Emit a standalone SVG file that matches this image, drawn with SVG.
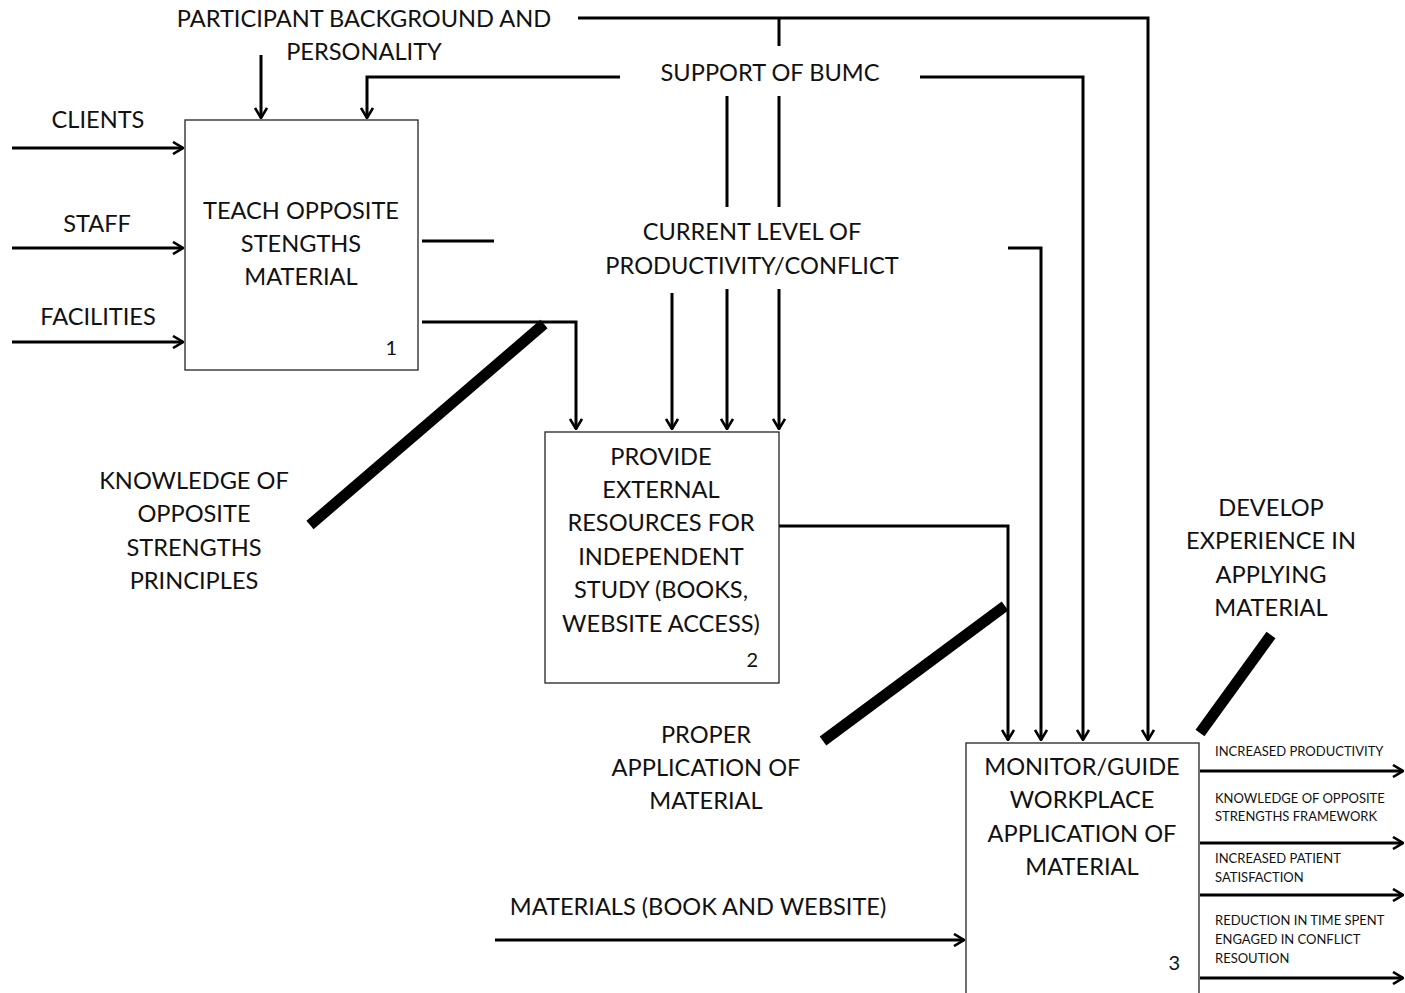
<svg xmlns="http://www.w3.org/2000/svg" width="1405" height="993" viewBox="0 0 1405 993">
<style>
.t{font-family:Lato,"Open Sans",sans-serif;font-size:23.6px;fill:#111;text-anchor:middle}
.s{font-family:Lato,"Open Sans",sans-serif;font-size:13px;fill:#111}
.n{font-family:Lato,"Open Sans",sans-serif;font-size:20px;fill:#111;text-anchor:end}
.box{fill:#fff;stroke:#222;stroke-width:1.3}
.c{fill:none;stroke:#000;stroke-width:3}
.a{fill:none;stroke:#000;stroke-width:3;marker-end:url(#ah)}
.thick{stroke:#000;stroke-width:11}
</style>
<defs>
<marker id="ah" viewBox="0 0 12 14" refX="11" refY="7" markerWidth="12" markerHeight="14" markerUnits="userSpaceOnUse" orient="auto">
<path d="M1,1 L11,7 L1,13" fill="none" stroke="#000" stroke-width="2.6"/>
</marker>
</defs>
<rect width="1405" height="993" fill="#fff"/>
<g id="connectors">
<path class="a" d="M578,18 H1148 V740"/>
<path class="c" d="M779,18 V46"/>
<path class="a" d="M620,77 H367 V118"/>
<path class="a" d="M920,77 H1083 V740"/>
<path class="c" d="M727,96 V207"/>
<path class="c" d="M779,96 V207"/>
<path class="a" d="M672,293 V429"/>
<path class="a" d="M727,289 V429"/>
<path class="a" d="M779,289 V429"/>
<path class="a" d="M1008,248 H1041 V740"/>
<path class="a" d="M261,55 V118"/>
<path class="a" d="M12,148 H183"/>
<path class="a" d="M12,248 H183"/>
<path class="a" d="M12,342 H183"/>
<path class="c" d="M422,241 H494"/>
<path class="a" d="M422,322 H576 V429"/>
<path class="a" d="M779,526 H1008 V740"/>
<path class="a" d="M495,940 H964"/>
<path class="a" d="M1200,771 H1403"/>
<path class="a" d="M1200,843 H1403"/>
<path class="a" d="M1200,895 H1403"/>
<path class="a" d="M1200,978 H1403"/>
<line class="thick" x1="310" y1="525" x2="544" y2="324"/>
<line class="thick" x1="823" y1="741" x2="1005" y2="606"/>
<line class="thick" x1="1200" y1="733" x2="1271" y2="635"/>
</g>
<g id="node1">
<rect class="box" x="185" y="120" width="233" height="250"/>
<text class="t" x="301" y="219">TEACH OPPOSITE</text>
<text class="t" x="301" y="252">STENGTHS</text>
<text class="t" x="301" y="285">MATERIAL</text>
<text class="n" x="397" y="355">1</text>
</g>
<g id="node2">
<rect class="box" x="545" y="432" width="234" height="251"/>
<text class="t" x="661" y="465">PROVIDE</text>
<text class="t" x="661" y="498">EXTERNAL</text>
<text class="t" x="661" y="531">RESOURCES FOR</text>
<text class="t" x="661" y="565">INDEPENDENT</text>
<text class="t" x="661" y="598">STUDY (BOOKS,</text>
<text class="t" x="661" y="632">WEBSITE ACCESS)</text>
<text class="n" x="758" y="667">2</text>
</g>
<g id="node3">
<rect class="box" x="966" y="743" width="233" height="262"/>
<text class="t" x="1082" y="775">MONITOR/GUIDE</text>
<text class="t" x="1082" y="808">WORKPLACE</text>
<text class="t" x="1082" y="842">APPLICATION OF</text>
<text class="t" x="1082" y="875">MATERIAL</text>
<text class="n" x="1180" y="970">3</text>
</g>
<g id="labels">
<text class="t" x="364" y="27">PARTICIPANT  BACKGROUND AND</text>
<text class="t" x="364" y="60">PERSONALITY</text>
<text class="t" x="770" y="81">SUPPORT OF BUMC</text>
<text class="t" x="752" y="240">CURRENT LEVEL OF</text>
<text class="t" x="752" y="274">PRODUCTIVITY/CONFLICT</text>
<text class="t" x="98" y="128">CLIENTS</text>
<text class="t" x="97" y="232">STAFF</text>
<text class="t" x="98" y="325">FACILITIES</text>
<text class="t" x="194" y="489">KNOWLEDGE OF</text>
<text class="t" x="194" y="522">OPPOSITE</text>
<text class="t" x="194" y="556">STRENGTHS</text>
<text class="t" x="194" y="589">PRINCIPLES</text>
<text class="t" x="1271" y="516">DEVELOP</text>
<text class="t" x="1271" y="549">EXPERIENCE IN</text>
<text class="t" x="1271" y="583">APPLYING</text>
<text class="t" x="1271" y="616">MATERIAL</text>
<text class="t" x="706" y="743">PROPER</text>
<text class="t" x="706" y="776">APPLICATION OF</text>
<text class="t" x="706" y="809">MATERIAL</text>
<text class="t" x="698" y="915">MATERIALS (BOOK AND WEBSITE)</text>
<text class="s" x="1215" y="756">INCREASED  PRODUCTIVITY</text>
<text class="s" x="1215" y="803">KNOWLEDGE  OF OPPOSITE</text>
<text class="s" x="1215" y="821">STRENGTHS  FRAMEWORK</text>
<text class="s" x="1215" y="863">INCREASED  PATIENT</text>
<text class="s" x="1215" y="882">SATISFACTION</text>
<text class="s" x="1215" y="925">REDUCTION  IN TIME SPENT</text>
<text class="s" x="1215" y="944">ENGAGED  IN CONFLICT</text>
<text class="s" x="1215" y="963">RESOUTION</text>
</g>
</svg>
